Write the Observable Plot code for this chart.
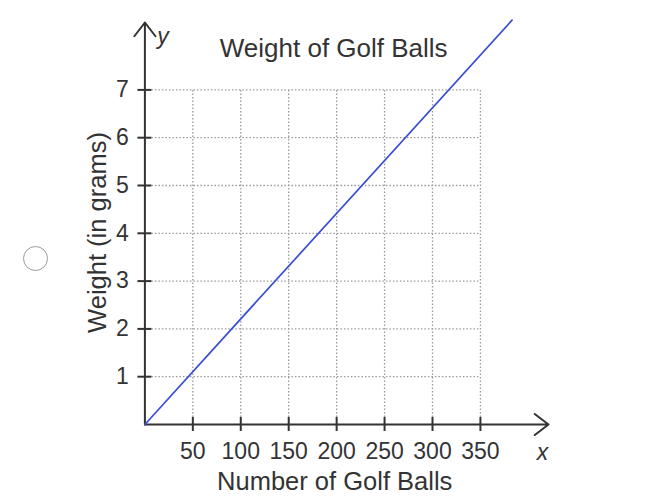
<!DOCTYPE html>
<html>
<head>
<meta charset="utf-8">
<script src="https://cdn.jsdelivr.net/npm/d3@7"></script>
<script src="https://cdn.jsdelivr.net/npm/@observablehq/plot@0.6"></script>
<style>
  html, body { margin: 0; padding: 0; background: #fff; }
  #wrap { position: relative; width: 662px; height: 502px; overflow: hidden; }
  #radio { position: absolute; left: 23px; top: 246px; width: 25px; height: 25px;
           border: 1.5px solid #9a9a9a; border-radius: 50%; box-sizing: border-box; background: #fff; }
  svg { display: block; }
</style>
</head>
<body>
<div id="wrap"><div id="radio"></div></div>
<script>
// ---- data ----
const title = "Weight of Golf Balls";
const xLabel = "Number of Golf Balls";
const yLabel = "Weight (in grams)";
const xTicks = [50, 100, 150, 200, 250, 300, 350];
const yTicks = [1, 2, 3, 4, 5, 6, 7];
const ballCount = [0, 383];       // line end points (number of balls)
const weightGrams = [0, 8.46];    // line end points (grams)
const xAxisMax = 421;
const yAxisMax = 8.41;
const gridXMax = 350;
const gridYMax = 7;

const lineData = ballCount.map((n, i) => ({n, w: weightGrams[i]}));

const axisColor = "#333";
const chart = Plot.plot({
  width: 662,
  height: 502,
  marginLeft: 144.4,
  marginRight: 114,
  marginTop: 22,
  marginBottom: 78,
  style: {fontFamily: "'Liberation Sans', Arial, sans-serif", fontSize: "23px", color: axisColor, background: "transparent"},
  x: {domain: [0, xAxisMax], axis: null},
  y: {domain: [0, yAxisMax], axis: null},
  marks: [
    Plot.ruleX(xTicks, {x: d => d, y1: 0, y2: gridYMax, stroke: "#9a9a9a", strokeWidth: 1.3, strokeDasharray: "1.5 2"}),
    Plot.ruleY(yTicks, {y: d => d, x1: 0, x2: gridXMax, stroke: "#9a9a9a", strokeWidth: 1.3, strokeDasharray: "1.5 2"}),
    Plot.arrow([{x1: 0, y1: 0, x2: xAxisMax, y2: 0}], {x1: "x1", y1: "y1", x2: "x2", y2: "y2", stroke: axisColor, strokeWidth: 2, headLength: 13, headAngle: 75}),
    Plot.arrow([{x1: 0, y1: 0, x2: 0, y2: yAxisMax}], {x1: "x1", y1: "y1", x2: "x2", y2: "y2", stroke: axisColor, strokeWidth: 2, headLength: 13, headAngle: 75}),
    Plot.axisX(xTicks, {tickSize: 14, dy: -7, tickPadding: 11, stroke: axisColor, strokeWidth: 2, fill: axisColor, fontSize: 23, label: null}),
    Plot.axisY(yTicks, {tickSize: 14, dx: 7, tickPadding: 9, stroke: axisColor, strokeWidth: 2, fill: axisColor, fontSize: 23, label: null}),
    Plot.line(lineData, {x: "n", y: "w", stroke: "#3a4ed2", strokeWidth: 1.7}),
    Plot.text([title], {frameAnchor: "top", dx: -13, dy: 16, fontSize: 26, fill: axisColor}),
    Plot.text([xLabel], {frameAnchor: "bottom", dx: -12, dy: 65, fontSize: 25.5, fill: axisColor}),
    Plot.text([yLabel], {frameAnchor: "left", textAnchor: "middle", rotate: -90, dx: -47, dy: 9, fontSize: 25.5, fill: axisColor}),
    Plot.text(["y"], {x: 0, y: yAxisMax, dx: 18, dy: 14, fontSize: 23, fontStyle: "italic", fill: axisColor}),
    Plot.text(["x"], {x: xAxisMax, y: 0, dx: -6, dy: 28, fontSize: 23, fontStyle: "italic", fill: axisColor})
  ]
});
document.getElementById("wrap").prepend(chart);
</script>
</body>
</html>
